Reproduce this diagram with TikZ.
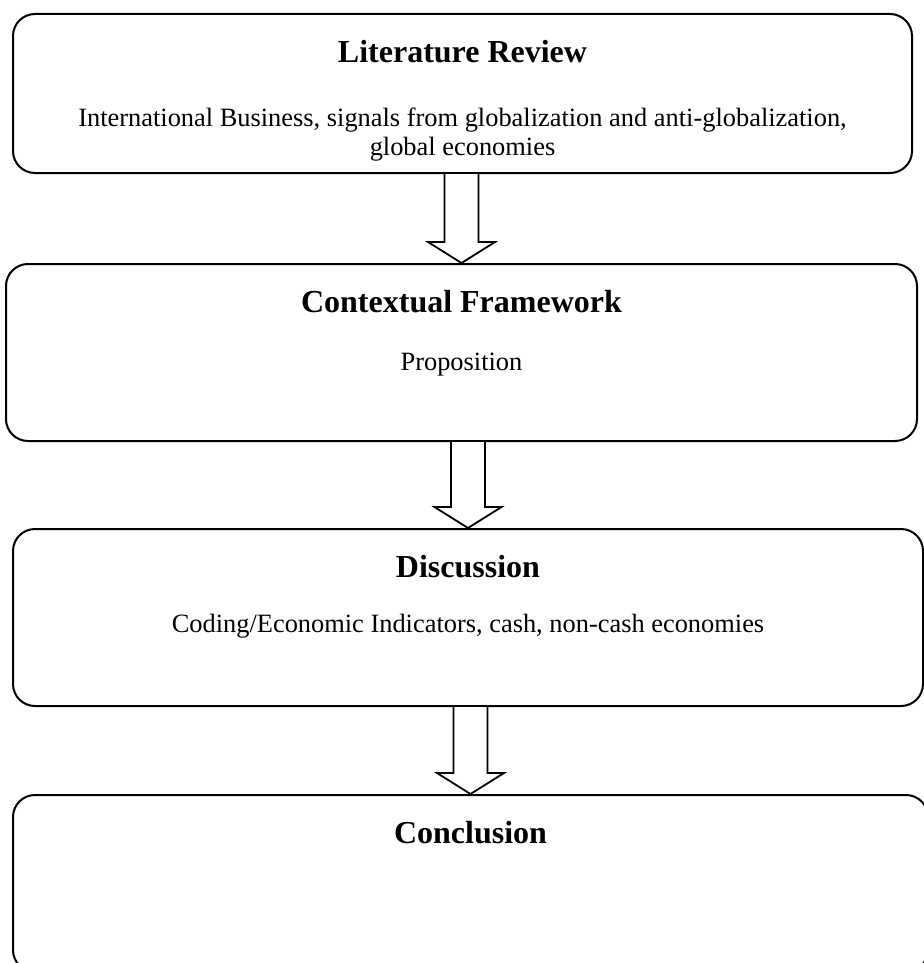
\documentclass[tikz,border=0pt]{standalone}
\usepackage{fontspec}
\setmainfont{Liberation Serif}
\usepackage{tikz}
\usetikzlibrary{positioning, calc}
\tikzstyle{stage} = [rectangle, rounded corners=11pt, minimum height=88.5pt, draw=black, line width=1pt, fill=white]
\tikzstyle{head} = [inner sep=0pt, text height=11pt, text depth=0pt, font=\bfseries\fontsize{16}{19}\selectfont]
\tikzstyle{desc} = [inner sep=0pt, align=center, font=\fontsize{13.2}{14.5}\selectfont]
\tikzstyle{blockarrow} = [draw=black, line width=0.9pt, line join=miter, fill=white]
% hollow arrow from the bottom of #1 to the top of #2
\newcommand{\stagearrow}[2]{%
  \draw [blockarrow] let \p1=(#1.south), \p2=(#2.north) in
    (\x2-8.5pt,\y1) -- (\x2-8.5pt,\y2+10.5pt) -- (\x2-16.75pt,\y2+10.5pt) -- (\x2,\y2)
    -- (\x2+16.75pt,\y2+10.5pt) -- (\x2+8.5pt,\y2+10.5pt) -- (\x2+8.5pt,\y1);}

\begin{document}
\begin{tikzpicture}
\useasboundingbox (0,0) rectangle (462pt,-481.5pt);

\node (lit) [stage, minimum width=449.5pt, minimum height=79.5pt] at (231.25pt,-46.75pt) {};
\node (ctx) [stage, minimum width=455.5pt, below=44.5pt of lit, xshift=-0.5pt] {};
\node (disc) [stage, minimum width=455pt, below=43pt of ctx, xshift=3.25pt] {};
\node (concl) [stage, minimum width=457.5pt, below=43.5pt of disc, xshift=1.25pt] {};

\node (litT) [head, below=13.5pt of lit.north] {Literature Review};
\node (litD) [desc, below=22.5pt of litT] {International Business, signals from globalization and anti-globalization,\\ global economies};

\node (ctxT) [head, below=13.5pt of ctx.north] {Contextual Framework};
\node (ctxD) [desc, below=20pt of ctxT] {Proposition};

\node (discT) [head, below=13.5pt of disc.north] {Discussion};
\node (discD) [desc, below=18pt of discT] {Coding/Economic Indicators, cash, non-cash economies};

\node (conclT) [head, below=13.5pt of concl.north] {Conclusion};

\stagearrow{lit}{ctx}
\stagearrow{ctx}{disc}
\stagearrow{disc}{concl}

\end{tikzpicture}
\end{document}
